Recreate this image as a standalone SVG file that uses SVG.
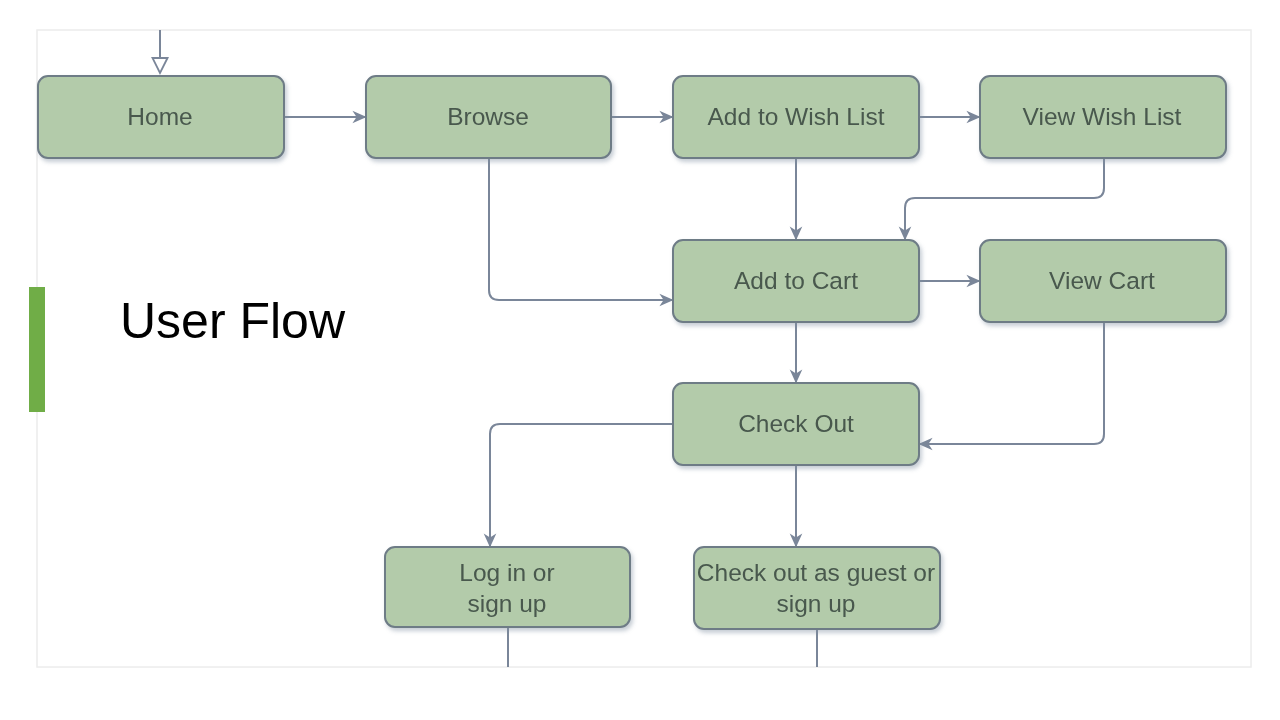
<svg xmlns="http://www.w3.org/2000/svg" width="1280" height="720" viewBox="0 0 1280 720">
<defs>
<style>
.node rect{fill:#b3cbaa;stroke:#6e7c86;stroke-width:2;}
.node text{font-family:"Liberation Sans",Arial,sans-serif;font-size:24.5px;fill:#48584d;text-anchor:middle;}
.edge{fill:none;stroke:#7a8699;stroke-width:2;}
</style>
<marker id="arr" viewBox="0 0 10 10" refX="9" refY="5" markerWidth="14" markerHeight="14" markerUnits="userSpaceOnUse" orient="auto">
<path d="M0,0.5 L10,5 L0,9.5 L3,5 Z" fill="#7a8699"/>
</marker>
<marker id="open" viewBox="0 0 12 12" refX="11" refY="6" markerWidth="18" markerHeight="18" markerUnits="userSpaceOnUse" orient="auto">
<path d="M1,1 L11,6 L1,11 Z" fill="#ffffff" stroke="#7a8699" stroke-width="1.2"/>
</marker>
<filter id="sh" x="-10%" y="-10%" width="125%" height="135%">
<feDropShadow dx="2" dy="3" stdDeviation="2" flood-color="#8090a0" flood-opacity="0.45"/>
</filter>
</defs>
<rect x="0" y="0" width="1280" height="720" fill="#ffffff"/>
<rect x="37" y="30" width="1214" height="637" fill="#ffffff" stroke="#ececec" stroke-width="1.5"/>
<rect x="29" y="287" width="16" height="125" fill="#70ad47"/>
<text x="120" y="338" font-family="Liberation Sans,Arial,sans-serif" font-size="50" fill="#000000">User Flow</text>
<g id="connectors">
<path class="edge" d="M160,30 V73" marker-end="url(#open)"/>
<path class="edge" d="M284,117 H365" marker-end="url(#arr)"/>
<path class="edge" d="M611,117 H672" marker-end="url(#arr)"/>
<path class="edge" d="M919,117 H979" marker-end="url(#arr)"/>
<path class="edge" d="M796,158 V239" marker-end="url(#arr)"/>
<path class="edge" d="M1104,158 V188 Q1104,198 1094,198 H915 Q905,198 905,208 V239" marker-end="url(#arr)"/>
<path class="edge" d="M489,158 V290 Q489,300 499,300 H672" marker-end="url(#arr)"/>
<path class="edge" d="M919,281 H979" marker-end="url(#arr)"/>
<path class="edge" d="M796,322 V382" marker-end="url(#arr)"/>
<path class="edge" d="M1104,322 V434 Q1104,444 1094,444 H920" marker-end="url(#arr)"/>
<path class="edge" d="M673,424 H500 Q490,424 490,434 V546" marker-end="url(#arr)"/>
<path class="edge" d="M796,465 V546" marker-end="url(#arr)"/>
<path class="edge" d="M508,627 V667"/>
<path class="edge" d="M817,629 V667"/>
</g>
<g id="home" class="node" filter="url(#sh)"><rect x="38" y="76" width="246" height="82" rx="10"/><text x="160" y="125">Home</text></g>
<g id="browse" class="node" filter="url(#sh)"><rect x="366" y="76" width="245" height="82" rx="10"/><text x="488" y="125">Browse</text></g>
<g id="add-wish" class="node" filter="url(#sh)"><rect x="673" y="76" width="246" height="82" rx="10"/><text x="796" y="125">Add to Wish List</text></g>
<g id="view-wish" class="node" filter="url(#sh)"><rect x="980" y="76" width="246" height="82" rx="10"/><text x="1102" y="125">View Wish List</text></g>
<g id="add-cart" class="node" filter="url(#sh)"><rect x="673" y="240" width="246" height="82" rx="10"/><text x="796" y="289">Add to Cart</text></g>
<g id="view-cart" class="node" filter="url(#sh)"><rect x="980" y="240" width="246" height="82" rx="10"/><text x="1102" y="289">View Cart</text></g>
<g id="check-out" class="node" filter="url(#sh)"><rect x="673" y="383" width="246" height="82" rx="10"/><text x="796" y="432">Check Out</text></g>
<g id="login" class="node" filter="url(#sh)"><rect x="385" y="547" width="245" height="80" rx="10"/><text x="507" y="581">Log in or</text><text x="507" y="612">sign up</text></g>
<g id="guest" class="node" filter="url(#sh)"><rect x="694" y="547" width="246" height="82" rx="10"/><text x="816" y="581">Check out as guest or</text><text x="816" y="612">sign up</text></g>
</svg>
